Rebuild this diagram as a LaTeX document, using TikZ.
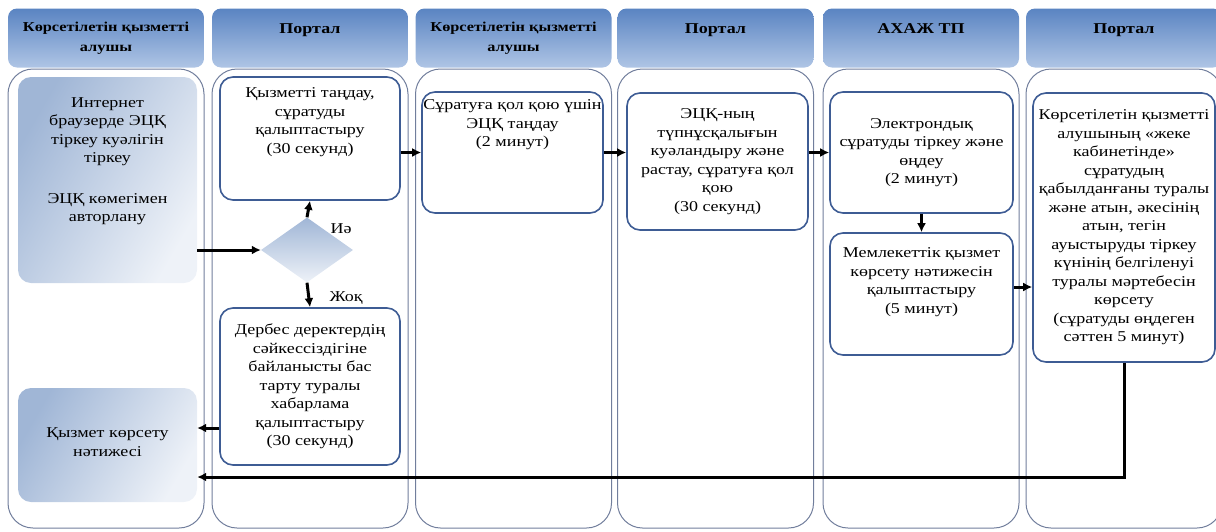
\documentclass[tikz,border=0pt]{standalone}
\usepackage{fontspec}
\setmainfont{Liberation Serif}[FakeStretch=1.2]
\usetikzlibrary{arrows.meta,shapes.geometric}
\definecolor{headtop}{HTML}{5A84C2}
\definecolor{headbot}{HTML}{AFC5E5}
\definecolor{laneline}{HTML}{717E9C}
\definecolor{boxline}{HTML}{3E5C94}
\definecolor{shadeA}{HTML}{A0B6D6}
\definecolor{shadeB}{HTML}{EEF2F8}
\begin{document}
\begin{tikzpicture}[x=1pt,y=-1pt]
\tikzstyle{head}=[rounded corners=9pt, top color=headtop, bottom color=headbot, minimum width=196pt, minimum height=59pt, align=center, font=\fontsize{15}{18}\selectfont\bfseries]
\tikzstyle{lane}=[draw=laneline, line width=1pt, rounded corners=25pt, minimum width=196pt, minimum height=459pt]
\tikzstyle{stepbox}=[draw=boxline, line width=1.6pt, rounded corners=13pt, fill=white, align=center, font=\fontsize{15}{18.5}\selectfont]
\tikzstyle{shadebox}=[rounded corners=13pt, left color=shadeA, right color=shadeB, shading angle=60]
\tikzstyle{txt}=[align=center, font=\fontsize{15}{18.5}\selectfont]
\tikzstyle{arr}=[-{Latex[length=9pt,width=9pt]}, line width=3pt]

\useasboundingbox (0,0) rectangle (1216,531);

\node[lane] (l1) at (106,298.5) {};
\node[lane] (l2) at (310,298.5) {};
\node[lane] (l3) at (513.5,298.5) {};
\node[lane] (l4) at (715.5,298.5) {};
\node[lane] (l5) at (921,298.5) {};
\node[lane] (l6) at (1124,298.5) {};

\node[head, font=\fontsize{13.6}{20}\selectfont\bfseries] (h1) at (106,38) {Көрсетілетін қызметті\\алушы};
\node[head] (h2) at (310,38) {Портал\\\mbox{}};
\node[head, font=\fontsize{13.6}{20}\selectfont\bfseries] (h3) at (513.5,38) {Көрсетілетін қызметті\\алушы};
\node[head] (h4) at (715.5,38) {Портал\\\mbox{}};
\node[head] (h5) at (921,38) {АХАЖ ТП\\\mbox{}};
\node[head] (h6) at (1124,38) {Портал\\\mbox{}};

\node[shadebox, minimum width=179pt, minimum height=206pt] (a) at (107.5,180) {};
\node[txt] (at) at (107.5,161) {Интернет\\браузерде ЭЦҚ\\тіркеу куәлігін\\тіркеу\\[22pt]ЭЦҚ көмегімен\\авторлану};
\node[shadebox, minimum width=179pt, minimum height=114pt] (b) at (107.5,445) {};
\node[txt] (bt) at (107.5,442) {Қызмет көрсету\\нәтижесі};

\node[stepbox, minimum width=180pt, minimum height=123pt] (c) at (310,138.5) {};
\node[txt] (ct) at (310,122) {Қызметті таңдау,\\сұратуды\\қалыптастыру\\(30 секунд)};
\node[diamond, inner sep=0pt, minimum width=92pt, minimum height=65pt, top color=shadeA, bottom color=shadeB] (dia) at (307,250) {};
\node[txt] (yes) at (341,229) {Иә};
\node[txt] (no) at (346,298) {Жоқ};
\node[stepbox, minimum width=180pt, minimum height=157pt] (d) at (310,386.5) {Дербес деректердің\\сәйкессіздігіне\\байланысты бас\\тарту туралы\\хабарлама\\қалыптастыру\\(30 секунд)};

\node[stepbox, minimum width=181pt, minimum height=121pt] (e) at (512.5,152.5) {};
\node[txt] (et) at (512.5,125) {Сұратуға қол қою үшін\\ЭЦҚ таңдау\\(2 минут)};

\node[stepbox, minimum width=181pt, minimum height=137pt] (f) at (717.5,161.5) {ЭЦҚ-ның\\түпнұсқалығын\\куәландыру және\\растау, сұратуға қол\\қою\\(30 секунд)};

\node[stepbox, minimum width=183pt, minimum height=121pt] (g) at (921.5,152.5) {Электрондық\\сұратуды тіркеу және\\өңдеу\\(2 минут)};
\node[stepbox, minimum width=183pt, minimum height=122pt] (h) at (921.5,294) {};
\node[txt] (ht) at (921.5,282) {Мемлекеттік қызмет\\көрсету нәтижесін\\қалыптастыру\\(5 минут)};

\node[stepbox, minimum width=182pt, minimum height=269pt] (i) at (1124,227.5) {Көрсетілетін қызметті\\алушының «жеке\\кабинетінде»\\сұратудың\\қабылданғаны туралы\\және атын, әкесінің\\атын, тегін\\ауыстыруды тіркеу\\күнінің белгіленуі\\туралы мәртебесін\\көрсету\\(сұратуды өңдеген\\сәттен 5 минут)};

\draw[arr] (a.east |- dia.west) -- (dia.west);
\draw[arr] (dia.north) -- (c.south);
\draw[arr] (dia.south) -- (d.north);
\draw[arr] (d.west |- 0,428) -- (b.east |- 0,428);
\draw[arr] (c.east |- e.west) -- (e.west);
\draw[arr] (e.east) -- (e.east -| f.west);
\draw[arr] (f.east |- g.west) -- (g.west);
\draw[arr] (g.south) -- (h.north);
\draw[arr] ([yshift=7pt]h.east) -- ([yshift=7pt]h.east -| i.west);
\draw[arr] (i.south) |- (b.east |- 0,477);

\end{tikzpicture}
\end{document}
